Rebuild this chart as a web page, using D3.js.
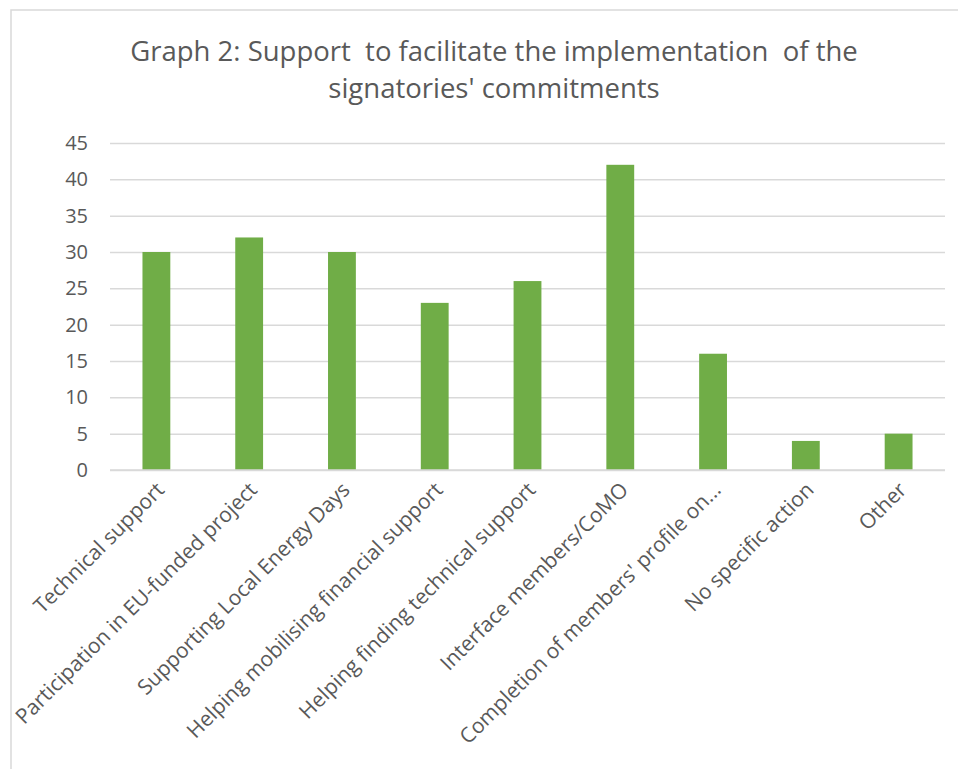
<!DOCTYPE html>
<html>
<head>
<meta charset="utf-8">
<script src="https://cdn.jsdelivr.net/npm/d3@7"></script>
<style>
  body { margin: 0; background: #fff; }
  svg text { font-family: "Open Sans", "Noto Sans", sans-serif; fill: #595959; white-space: pre; }
</style>
</head>
<body>
<svg id="chart" width="958" height="769"></svg>
<script>
const categories = [
    "Technical support",
    "Participation in EU-funded project",
    "Supporting Local Energy Days",
    "Helping mobilising financial support",
    "Helping finding technical support",
    "Interface members/CoMO",
    "Completion of members' profile on...",
    "No specific action",
    "Other"
];
const counts = [30, 32, 30, 23, 26, 42, 16, 4, 5];
const yTicks = [0, 5, 10, 15, 20, 25, 30, 35, 40, 45];
const titleLines = [
    "Graph 2: Support  to facilitate the implementation  of the",
    "signatories' commitments"
];

const svg = d3.select("#chart");

// chart frame (runs off the right and bottom edges like the original)
svg.append("rect")
    .attr("x", 11).attr("y", 10)
    .attr("width", 1000).attr("height", 800)
    .attr("fill", "none")
    .attr("stroke", "#d9d9d9")
    .attr("stroke-width", 1.5);

const plot = { left: 110, right: 945, top: 143, bottom: 470 };

const x = d3.scaleBand()
    .domain(categories)
    .range([plot.left, plot.right])
    .paddingInner(0.7)
    .paddingOuter(0.35);

const y = d3.scaleLinear()
    .domain([0, 45])
    .range([plot.bottom, plot.top]);

// title
svg.append("text")
    .attr("text-anchor", "middle")
    .style("font-size", "27.5px")
    .selectAll("tspan")
    .data(titleLines)
    .join("tspan")
    .attr("x", 494)
    .attr("y", (d, i) => 61 + i * 37)
    .text(d => d);

// gridlines
svg.append("g")
    .attr("transform", `translate(${plot.left},0)`)
    .call(d3.axisLeft(y).tickValues(yTicks).tickSize(-(plot.right - plot.left)).tickFormat(""))
    .call(g => g.select(".domain").remove())
    .call(g => g.selectAll("line").attr("stroke", "#d9d9d9").attr("stroke-width", 1.5));

// y labels
svg.append("g")
    .attr("transform", `translate(${plot.left},0)`)
    .call(d3.axisLeft(y).tickValues(yTicks).tickSize(0).tickPadding(22))
    .call(g => g.select(".domain").remove())
    .call(g => g.selectAll("text").style("font-size", "20px").attr("fill", "#595959"));

// bars
svg.append("g")
    .selectAll("rect")
    .data(counts)
    .join("rect")
    .attr("x", (d, i) => x(categories[i]))
    .attr("y", d => y(d))
    .attr("width", x.bandwidth())
    .attr("height", d => y(0) - y(d))
    .attr("fill", "#70ad47");

// x axis line
svg.append("line")
    .attr("x1", plot.left).attr("x2", plot.right)
    .attr("y1", y(0)).attr("y2", y(0))
    .attr("stroke", "#d9d9d9").attr("stroke-width", 1.5);

// rotated category labels
svg.append("g")
    .selectAll("text")
    .data(categories)
    .join("text")
    .attr("text-anchor", "end")
    .attr("transform", d => `translate(${x(d) + x.bandwidth() / 2 + 4},${plot.bottom + 16}) rotate(-45)`)
    .attr("dy", "0.35em")
    .style("font-size", "21px")
    .text(d => d);
</script>
</body>
</html>
